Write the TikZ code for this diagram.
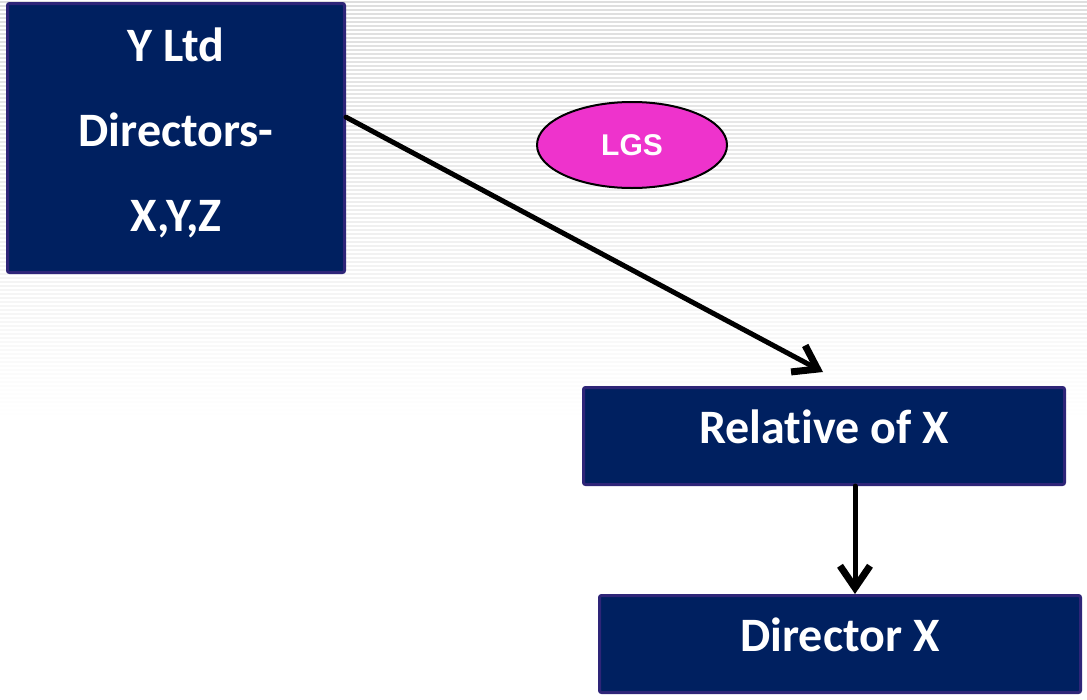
\documentclass[tikz,border=0pt]{standalone}
\usepackage{fontspec}
\newfontfamily\boxfont[Ligatures=NoCommon]{Carlito}
\newfontfamily\ovalfont{Liberation Sans}
\usetikzlibrary{arrows.meta,shapes.geometric}
\definecolor{navy}{RGB}{0,32,96}
\definecolor{navyedge}{RGB}{46,37,120}
\definecolor{lgspink}{RGB}{238,51,204}
\definecolor{stripe}{RGB}{222,222,222}
\begin{document}
\begin{tikzpicture}[x=1pt,y=-1pt,>={Straight Barb[length=22pt,width=30pt,line width=7pt]}, line join=round, line cap=round,
	box/.style={draw=navyedge, line width=3pt, fill=navy, rounded corners=2pt, text=white, font=\boxfont\bfseries\fontsize{48}{85}\selectfont, align=center, inner sep=0pt},
	oval/.style={ellipse, draw=black, line width=2pt, fill=lgspink, text=white, font=\ovalfont\bfseries\fontsize{30}{36}\selectfont, inner sep=0pt},
	link/.style={->, line width=5pt}]
	\useasboundingbox (0,0) rectangle (1087,699);
	\foreach \i in {0,...,105}
	\draw[stripe, line width=1.6pt, opacity=1-\i/105] (0,2+4*\i) -- (1087,2+4*\i);
	\node[box, minimum width=337pt, minimum height=269pt] (ylt) at (176,138) {Y Ltd\\Directors-\\X,Y,Z\rule[-17pt]{0pt}{0pt}};
	\node[oval, minimum width=190pt, minimum height=86pt] (lgs) at (632,145) {LGS};
	\node[box, minimum width=481pt, minimum height=97pt, text height=33pt, text depth=19pt] (rel) at (824,436) {Relative of X};
	\node[box, minimum width=481pt, minimum height=97pt, text height=33pt, text depth=19pt] (dirx) at (840,644) {Director X};
	\coordinate (tipA) at (823,372);
	\coordinate (col) at (855,0);
	\draw[link] (ylt.7.4) -- (tipA);
	\draw[link] (rel.south -| col) -- (dirx.north -| col);
\end{tikzpicture}
\end{document}
